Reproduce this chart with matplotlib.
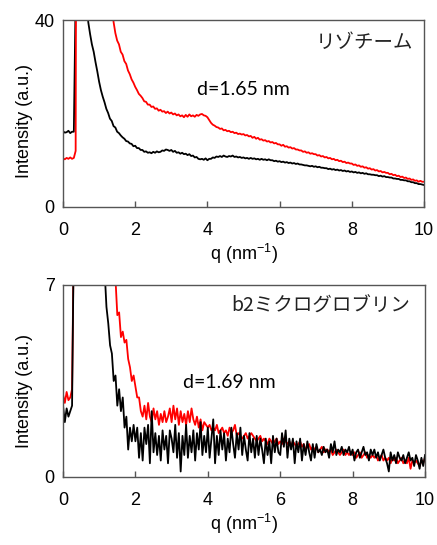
import numpy as np
import matplotlib
matplotlib.use('Agg')
import matplotlib.pyplot as plt

plt.rcParams['font.family'] = ['Liberation Sans', 'DejaVu Sans']
plt.rcParams['mathtext.fontset'] = 'custom'
plt.rcParams['mathtext.rm'] = 'Liberation Sans'
plt.rcParams['mathtext.it'] = 'Liberation Sans:italic'

# lysozyme, q step 0.05 from 0 to 10 (one row = 1 nm^-1)
lys_black = [
    16.2, 15.9, 16.0, 16.3, 15.8, 16.1, 16.1, 45, 300, 300, 150, 90, 55, 45, 39.5, 37, 34.8, 33.2, 31, 29,
    26.8, 25.0, 23.6, 22.4, 21.0, 20.1, 18.9, 18.4, 17.3, 17.0, 16.1, 15.8, 15.3, 14.9, 14.6, 14.1, 14.0, 13.6, 13.5, 13.0,
    13.1, 12.6, 12.6, 12.2, 12.2, 11.8, 11.9, 11.6, 11.7, 11.5, 11.8, 11.6, 11.9, 11.7, 11.8, 12.1, 12.0, 12.3, 12.2, 12.0,
    12.2, 11.8, 12.0, 11.6, 11.7, 11.4, 11.6, 11.3, 11.4, 11.1, 11.3, 10.9, 11.0, 10.6, 10.7, 10.3, 10.2, 10.3, 10.1, 10.4,
    10.0, 10.3, 10.3, 10.6, 10.5, 10.8, 10.7, 10.9, 10.7, 11.0, 10.8, 10.7, 10.9, 10.8, 11.0, 10.7, 10.8, 10.6, 10.7, 10.5,
    10.6, 10.4, 10.5, 10.3, 10.5, 10.3, 10.4, 10.2, 10.3, 10.1, 10.3, 10.1, 10.2, 10.0, 10.2, 10.0, 10.0, 9.8, 9.9, 9.7,
    9.8, 9.6, 9.7, 9.5, 9.6, 9.4, 9.5, 9.3, 9.4, 9.2, 9.3, 9.1, 9.1, 9.0, 8.9, 8.9, 8.8, 8.7, 8.8, 8.6,
    8.7, 8.5, 8.6, 8.4, 8.4, 8.3, 8.3, 8.1, 8.2, 8.0, 8.1, 7.9, 8.0, 7.8, 7.9, 7.7, 7.8, 7.6, 7.7, 7.5,
    7.6, 7.4, 7.5, 7.3, 7.4, 7.2, 7.3, 7.1, 7.2, 7.0, 7.0, 6.9, 6.9, 6.8, 6.8, 6.6, 6.7, 6.5, 6.6, 6.4,
    6.4, 6.3, 6.3, 6.1, 6.1, 6.0, 6.0, 5.8, 5.8, 5.7, 5.7, 5.5, 5.5, 5.3, 5.3, 5.1, 5.1, 4.9, 4.9, 4.8,
    4.7]
lys_red = [
    10.4, 10.2, 10.5, 10.3, 10.6, 10.3, 10.5, 12, 200, 300, 300, 300, 300, 300, 300, 300, 300, 300, 300, 300,
    300, 300, 300, 300, 300, 300, 120, 46, 39.6, 37.2, 35.6, 34.8, 33.2, 32.6, 31.2, 30.6, 29.2, 28.4, 27.3, 26.6,
    25.7, 25.0, 24.2, 23.8, 23.3, 22.6, 22.5, 21.9, 21.9, 21.4, 21.5, 21.0, 21.1, 20.6, 20.8, 20.4, 20.5, 20.1, 20.4, 20.0,
    20.2, 19.8, 20.0, 19.6, 19.8, 19.4, 19.6, 19.2, 19.7, 19.3, 19.8, 19.4, 19.6, 19.3, 19.7, 19.5, 19.8, 19.9, 19.6, 19.5,
    19.2, 18.6, 18.0, 17.6, 17.4, 17.1, 17.0, 16.7, 16.8, 16.4, 16.5, 16.2, 16.3, 16.0, 16.1, 15.8, 15.9, 15.6, 15.7, 15.5,
    15.6, 15.3, 15.4, 15.1, 15.2, 14.8, 15.0, 14.6, 14.8, 14.4, 14.5, 14.2, 14.3, 14.0, 14.1, 13.8, 13.9, 13.6, 13.7, 13.4,
    13.4, 13.1, 13.3, 12.9, 13.0, 12.7, 12.8, 12.5, 12.6, 12.3, 12.3, 12.1, 12.1, 11.8, 11.9, 11.6, 11.7, 11.4, 11.5, 11.3,
    11.3, 11.0, 11.1, 10.8, 10.9, 10.6, 10.7, 10.4, 10.5, 10.2, 10.3, 10.0, 10.1, 9.8, 9.9, 9.6, 9.7, 9.4, 9.5, 9.3,
    9.3, 9.0, 9.1, 8.8, 8.9, 8.6, 8.7, 8.4, 8.5, 8.2, 8.3, 8.0, 8.1, 7.8, 7.9, 7.6, 7.7, 7.4, 7.5, 7.3,
    7.3, 7.0, 7.1, 6.8, 6.9, 6.6, 6.7, 6.4, 6.5, 6.2, 6.3, 6.0, 6.1, 5.8, 5.9, 5.6, 5.7, 5.4, 5.6, 5.4,
    5.4]

# b2-microglobulin, q step 0.05 from 0 to 10 (one row = 1 nm^-1)
b2m_black = [
    2.6, 2.0, 2.5, 2.2, 2.4, 2.6, 9, 40, 40, 40, 40, 40, 40, 40, 40, 40, 40, 40, 40, 40,
    40, 40, 40, 7.5, 6.2, 5.6, 4.8, 4.5, 3.5, 3.7, 2.6, 3.2, 2.4, 2.9, 1.8, 2.2, 1.0, 1.8, 1.3, 1.9,
    1.3, 1.8, 0.7, 1.6, 0.6, 1.8, 1.2, 1.9, 0.5, 2.4, 0.9, 1.6, 0.8, 1.5, 0.6, 1.7, 1.0, 1.5, 0.5, 1.7,
    1.4, 0.9, 1.9, 0.7, 1.6, 0.2, 1.5, 0.8, 1.9, 0.7, 1.5, 0.9, 1.7, 0.6, 1.6, 1.0, 2.0, 0.8, 1.5, 0.9,
    1.8, 0.7, 1.4, 2.1, 0.5, 1.5, 0.8, 1.7, 1.0, 1.6, 0.6, 1.4, 0.9, 1.8, 1.2, 0.7, 1.6, 1.0, 1.8, 0.8,
    1.5, 1.0, 0.6, 1.6, 0.9, 1.4, 0.7, 1.5, 0.8, 1.4, 1.0, 0.5, 1.4, 0.8, 1.3, 0.5, 1.5, 0.9, 1.4, 0.9,
    0.8, 1.6, 1.1, 1.7, 0.7, 1.4, 1.0, 1.4, 0.5, 1.3, 0.9, 1.4, 0.6, 1.2, 0.8, 1.3, 0.9, 0.6, 1.2, 0.7,
    1.2, 0.9, 1.0, 0.8, 1.1, 0.9, 1.0, 0.7, 1.2, 0.9, 1.3, 0.8, 1.0, 0.9, 1.1, 0.8, 1.0, 0.9, 1.1, 0.8,
    1.0, 0.6, 0.9, 1.0, 0.7, 0.9, 1.1, 0.8, 0.9, 0.6, 1.0, 0.8, 1.0, 0.7, 0.9, 0.6, 0.8, 1.0, 0.7, 0.5,
    0.2, 0.9, 0.6, 0.8, 0.5, 0.9, 0.7, 0.6, 0.8, 0.5, 0.7, 0.9, 0.6, 0.7, 0.4, 0.8, 0.6, 0.3, 0.7, 0.4,
    0.8]
b2m_red = [
    3.0, 2.7, 3.1, 2.8, 2.9, 3.2, 9, 40, 40, 40, 40, 40, 40, 40, 40, 40, 40, 40, 40, 40,
    40, 40, 40, 40, 40, 40, 40, 40, 40, 7.2, 5.9, 6.0, 5.1, 5.3, 4.9, 5.0, 4.3, 4.0, 3.5, 3.7,
    3.3, 2.9, 2.9, 2.4, 2.2, 2.6, 2.1, 2.7, 2.2, 2.0, 2.5, 2.1, 2.4, 1.9, 2.3, 2.0, 2.4, 2.0, 2.2, 2.5,
    2.0, 2.6, 2.1, 2.5, 1.9, 2.4, 2.0, 2.3, 1.9, 2.4, 2.0, 2.5, 2.1, 1.9, 2.2, 1.8, 2.1, 1.7, 2.0, 1.9,
    1.8, 1.9, 1.7, 1.8, 1.7, 1.9, 1.6, 1.7, 1.8, 1.6, 1.7, 1.5, 1.8, 1.6, 1.7, 1.9, 1.5, 1.6, 1.5, 1.4,
    1.5, 1.6, 1.4, 1.5, 1.6, 1.5, 1.4, 1.3, 1.4, 1.5, 1.3, 1.4, 1.3, 1.2, 1.4, 1.3, 1.2, 1.3, 1.4, 1.2,
    1.3, 1.2, 1.4, 1.3, 1.2, 1.3, 1.1, 1.3, 1.2, 1.1, 1.2, 1.3, 1.1, 1.2, 1.0, 1.1, 1.2, 1.0, 1.1, 1.0,
    1.1, 0.9, 1.0, 1.1, 0.9, 1.0, 1.0, 0.9, 1.0, 0.8, 0.9, 1.0, 0.9, 0.8, 0.9, 1.0, 0.8, 0.9, 0.8, 0.9,
    0.8, 0.9, 0.7, 0.8, 0.9, 0.7, 0.8, 0.9, 0.7, 0.8, 0.7, 0.8, 0.7, 0.8, 0.6, 0.7, 0.8, 0.6, 0.7, 0.6,
    0.7, 0.5, 0.7, 0.6, 0.7, 0.5, 0.6, 0.7, 0.5, 0.6, 0.5, 0.7, 0.3, 0.6, 0.5, 0.6, 0.5, 0.4, 0.6, 0.5,
    0.7]

q_top = np.arange(len(lys_black)) * 0.05
q_bot = np.arange(len(b2m_black)) * 0.05

gray = '#555555'


def style(ax, ymax):
    ax.set_xlim(0, 10)
    ax.set_ylim(0, ymax)
    ax.set_xticks([0, 2, 4, 6, 8, 10])
    ax.set_yticks([0, ymax])
    ax.tick_params(axis='x', direction='in', length=4, width=1, color=gray,
                   pad=11, labelsize=13)
    ax.tick_params(axis='y', length=0, pad=6, labelsize=13)
    for s in ax.spines.values():
        s.set_color(gray)
        s.set_linewidth(1)
    ax.set_xlabel('q (nm$^{-1}$)', fontsize=13, labelpad=2)
    ax.set_ylabel('Intensity (a.u.)', fontsize=13)


fig = plt.figure(figsize=(4.37, 5.45), dpi=100)
ax1 = fig.add_axes([0.1442, 0.6202, 0.826, 0.3431])
ax2 = fig.add_axes([0.1442, 0.1248, 0.8284, 0.3523])

ax1.plot(q_top, lys_black, color='black', lw=1.3)
ax1.plot(q_top, lys_red, color='red', lw=1.3)
style(ax1, 40)
ax1.yaxis.set_label_coords(-0.083, 0.46)
ax1.text(3.71, 25.2, 'd=1.65 nm', fontsize=14, family=['Lato', 'DejaVu Sans'],
         ha='left', va='center')
ax1.text(9.7, 35.3, 'リゾチーム', fontsize=14, family=['Noto Sans CJK JP'],
         ha='right', va='center', color='#222222')

ax2.plot(q_bot, b2m_red, color='red', lw=1.3)
ax2.plot(q_bot, b2m_black, color='black', lw=1.3)
style(ax2, 7)
ax2.yaxis.set_label_coords(-0.083, 0.45)
ax2.text(3.31, 3.43, 'd=1.69 nm', fontsize=14, family=['Lato', 'DejaVu Sans'],
         ha='left', va='center')
ax2.text(9.59, 6.23, 'b2ミクログロブリン', fontsize=14, family=['Noto Sans CJK JP'],
         ha='right', va='center', color='#222222')

fig.savefig('out.png', dpi=100)
